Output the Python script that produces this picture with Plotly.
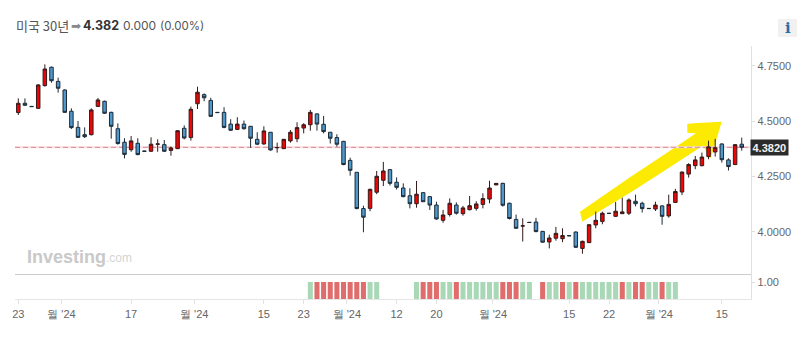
import plotly.graph_objects as go

W, H = 811, 354

open_ = [4.539,4.581,4.567,4.558,4.661,4.744,4.680,4.641,4.545,4.472,4.439,4.439,4.567,4.590,4.540,4.466,4.405,4.371,4.400,4.365,
         4.364,4.396,4.394,4.368,4.376,4.468,4.426,4.579,4.620,4.594,4.540,4.540,4.487,4.463,4.487,4.477,4.418,4.397,4.450,4.380,
         4.376,4.411,4.421,4.469,4.484,4.533,4.486,4.450,4.426,4.409,4.323,4.269,4.105,4.106,4.179,4.233,4.281,4.224,4.198,4.163,
         4.127,4.177,4.159,4.121,4.052,4.078,4.121,4.082,4.100,4.106,4.124,4.148,4.212,4.219,4.129,4.056,4.026,4.043,4.044,4.002,
         3.954,3.971,3.969,3.983,3.999,3.925,3.951,4.031,4.047,4.084,4.070,4.082,4.084,4.138,4.129,4.106,4.103,4.117,4.072,4.133,
         4.180,4.261,4.299,4.299,4.340,4.361,4.397,4.325,4.304,4.396]
high = [4.603,4.603,4.567,4.667,4.757,4.747,4.697,4.644,4.558,4.501,4.472,4.558,4.605,4.593,4.543,4.490,4.423,4.433,4.423,4.365,
        4.427,4.418,4.415,4.385,4.460,4.481,4.566,4.656,4.626,4.606,4.540,4.563,4.509,4.518,4.503,4.478,4.450,4.477,4.451,4.403,
        4.420,4.460,4.495,4.491,4.551,4.536,4.524,4.451,4.441,4.411,4.335,4.270,4.118,4.195,4.275,4.316,4.284,4.246,4.219,4.197,
        4.230,4.180,4.162,4.136,4.099,4.151,4.133,4.117,4.162,4.138,4.174,4.231,4.220,4.222,4.132,4.078,4.061,4.043,4.063,4.004,
        3.987,4.022,4.016,3.983,4.002,3.960,4.035,4.091,4.091,4.084,4.135,4.154,4.151,4.168,4.136,4.106,4.136,4.120,4.168,4.194,
        4.273,4.310,4.343,4.358,4.412,4.420,4.400,4.332,4.397,4.426]
low = [4.528,4.569,4.566,4.555,4.656,4.674,4.629,4.539,4.465,4.426,4.424,4.436,4.564,4.533,4.421,4.394,4.332,4.362,4.346,4.364,
       4.361,4.362,4.361,4.344,4.374,4.418,4.412,4.555,4.590,4.519,4.539,4.468,4.456,4.460,4.462,4.380,4.392,4.394,4.367,4.358,
       4.374,4.403,4.405,4.445,4.457,4.457,4.445,4.399,4.385,4.301,4.254,4.102,3.998,4.093,4.170,4.207,4.209,4.191,4.156,4.106,
       4.109,4.135,4.099,4.055,4.041,4.069,4.078,4.073,4.097,4.096,4.106,4.129,4.211,4.114,4.056,4.013,3.956,4.042,3.998,3.951,
       3.925,3.960,3.953,3.982,3.927,3.901,3.950,4.016,4.034,4.083,4.067,4.081,4.076,4.115,4.087,4.105,4.094,4.032,4.064,4.130,
       4.166,4.245,4.283,4.296,4.328,4.340,4.313,4.277,4.302,4.367]
close = [4.581,4.572,4.566,4.664,4.736,4.683,4.649,4.540,4.471,4.427,4.430,4.551,4.596,4.536,4.477,4.399,4.350,4.411,4.349,4.364,
         4.396,4.397,4.364,4.379,4.457,4.424,4.554,4.631,4.606,4.522,4.539,4.472,4.459,4.487,4.466,4.423,4.396,4.456,4.370,4.381,
         4.418,4.450,4.471,4.484,4.540,4.487,4.453,4.423,4.396,4.304,4.278,4.105,4.066,4.192,4.251,4.275,4.219,4.201,4.159,4.127,
         4.170,4.136,4.121,4.058,4.076,4.129,4.084,4.108,4.118,4.126,4.150,4.198,4.219,4.120,4.060,4.016,4.027,4.042,4.001,3.953,
         3.972,3.993,3.983,3.982,3.930,3.957,4.032,4.052,4.084,4.083,4.093,4.090,4.144,4.127,4.105,4.105,4.121,4.070,4.124,4.182,
         4.270,4.304,4.325,4.338,4.384,4.380,4.326,4.295,4.394,4.382]
sessions = list(range(len(close)))

panel_up = [44,53,54,60,64,65,67,68,69,70,71,72,76,77,80,81,83,85,86,87,88,89,90,92,95,96,98,99]
panel_down = [45,46,47,48,49,50,51,52,61,62,63,66,73,74,75,79,82,84,91,93,94,97]
panel_value = 1.0

tick_positions = [0,6.5,17,26.5,37,43,49.5,57,63,71.5,83,89,96.5,106]
tick_labels = ["23","월 '24","17","월 '24","15","23","월 '24","12","20","월 '24","15","22","월 '24","15"]
price_ticks = [4.0,4.25,4.5,4.75]
price_labels = ["4.0000","4.2500","4.5000","4.7500"]
last_price = 4.382

LEFT, RIGHT, TOP, SPLIT, BOTTOM = 15, 751.3, 45.7, 274.3, 299.3
px = lambda x: x / W
py = lambda y: 1 - y / H

arrow_outline = [(580,211.7),(630,177.3),(670,150.7),(696,133.3),(687.3,132.7),(687.3,124),(693.3,123.3),
                 (721.7,121.7),(718.3,133.3),(710.7,158.3),(702.7,145.7),(673.3,165),(633.3,190.7),(582.3,221.7)]
arrow_path = "M " + " L ".join(f"{px(a):.5f},{py(b):.5f}" for a, b in arrow_outline) + " Z"

fig = go.Figure()
fig.add_trace(go.Candlestick(
    x=sessions, open=open_, high=high, low=low, close=close, whiskerwidth=0, xaxis="x", yaxis="y",
    increasing=dict(line=dict(color="#331a1a", width=1), fillcolor="#ee0606"),
    decreasing=dict(line=dict(color="#1c2a36", width=1), fillcolor="#4f98cc"),
    showlegend=False, hoverinfo="skip"))
fig.add_trace(go.Bar(x=panel_up, y=[panel_value]*len(panel_up), marker=dict(color="#a9d8b6", line_width=0),
                     xaxis="x2", yaxis="y2", showlegend=False))
fig.add_trace(go.Bar(x=panel_down, y=[panel_value]*len(panel_down), marker=dict(color="#e06c6c", line_width=0),
                     xaxis="x2", yaxis="y2", showlegend=False))

shapes = [
    dict(type="path", path=arrow_path, xref="paper", yref="paper", fillcolor="#fdea02", line_width=0, layer="below"),
    dict(type="line", xref="x domain", yref="y", x0=0, x1=1, y0=last_price, y1=last_price,
         line=dict(color="#f8dde0", width=2), layer="below"),
    dict(type="line", xref="x domain", yref="y", x0=0, x1=1, y0=last_price, y1=last_price,
         line=dict(color="#d98a95", width=1, dash="5px,3px"), layer="below"),
    dict(type="rect", xref="paper", yref="paper", x0=px(778), x1=px(797), y0=py(37), y1=py(19),
         fillcolor="#f1f1f1", line_width=0, layer="below"),
]

NOTE_SHIFT = 2
def note(text, x, y, size=13, color="#444444", family="Liberation Sans", xanchor="left", **kw):
    shift = NOTE_SHIFT if xanchor == "left" else 0
    return dict(text=text, x=px(x - shift), y=py(y), xref="paper", yref="paper", showarrow=False, xanchor=xanchor,
                yanchor="middle", align="left", font=dict(size=size, color=color, family=family), **kw)

annotations = [
    note("미국 30년", 16, 26, 13, "#555555", "Noto Sans CJK KR"),
    note("➡", 71, 26, 12, "#888888", "DejaVu Sans"),
    note("<b>4.382</b>", 83, 26, 12.5, "#333333", "Inter"),
    note("0.000", 123, 26, 12, "#555555", "Inter"),
    note("(0.00%)", 160, 26, 11.5, "#555555", "Inter"),
    note("<b>i</b>", 787.5, 28, 15, "#2a6ca5", "DejaVu Serif", xanchor="center"),
    note("<b>Investing</b>", 27, 256.5, 18, "#c9c9c9", "Liberation Sans"),
    note(".com", 106, 258, 12, "#d4d4d4", "Liberation Sans"),
    dict(text="<b>4.3820</b>", x=px(769.5), y=last_price, xref="paper", yref="y", showarrow=False,
         xanchor="center", yanchor="middle", bgcolor="#2b2b2b", borderpad=1.5,
         font=dict(size=11, color="#f2f2f2", family="Liberation Sans")),
]

axis_font = dict(size=11, color="#666666", family="Liberation Sans")
xr = [-0.497, 110.44]
fig.update_layout(
    width=W, height=H, margin=dict(l=0, r=0, t=0, b=0), paper_bgcolor="white", plot_bgcolor="white",
    boxgap=0.25, bargap=0.24, barmode="overlay", shapes=shapes, annotations=annotations,
    xaxis=dict(domain=[px(LEFT), px(RIGHT)], range=xr, autorange=False, automargin=False, anchor="y", showgrid=False, zeroline=False,
               rangeslider=dict(visible=False), showticklabels=False, ticks="",
               showline=True, linecolor="#cccccc", linewidth=1),
    xaxis2=dict(domain=[px(LEFT), px(RIGHT)], range=xr, autorange=False, automargin=False, anchor="y2", showgrid=False, zeroline=False,
                tickmode="array", tickvals=tick_positions, ticktext=tick_labels, tickfont=axis_font,
                ticks="outside", ticklen=4, tickcolor="#e2e2e2", tickangle=0,
                showline=True, linecolor="#e6e6e6", linewidth=1),
    yaxis=dict(domain=[py(SPLIT), py(TOP)], range=[3.8079, 4.8413], side="right", anchor="x", automargin=False, showgrid=False,
               zeroline=False, tickmode="array", tickvals=price_ticks, ticktext=price_labels, tickfont=axis_font,
               ticks="outside", ticklen=3, tickcolor="#dddddd", showline=True, linecolor="#e0e0e0", linewidth=1),
    yaxis2=dict(domain=[py(BOTTOM), py(SPLIT)], range=[0, 1.453], side="right", anchor="x2", automargin=False, showgrid=False,
                zeroline=False, tickmode="array", tickvals=[panel_value], ticktext=["1.00"], tickfont=axis_font,
                ticks="outside", ticklen=3, tickcolor="#dddddd", showline=True, linecolor="#e0e0e0", linewidth=1),
)

fig.write_html("out.html", config={"displayModeBar": False},
               post_script="document.body.style.margin='0';document.body.style.overflow='hidden';")
